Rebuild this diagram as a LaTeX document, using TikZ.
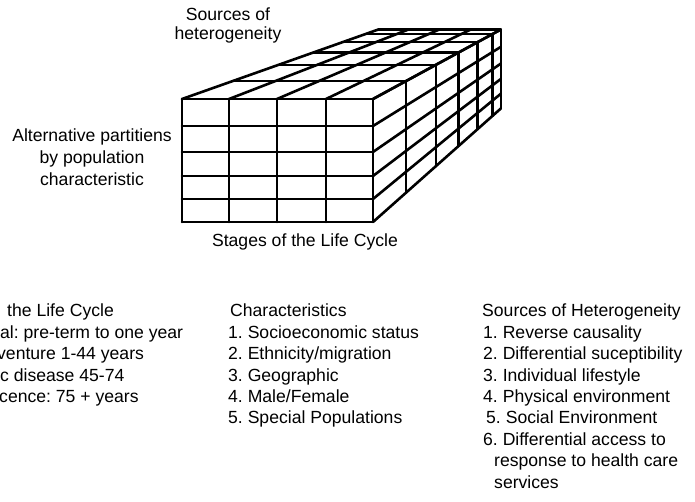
\documentclass[tikz,border=0pt]{standalone}
\usepackage{fontspec}
\setmainfont{Liberation Sans}
\usetikzlibrary{calc}
\frenchspacing
\begin{document}
\begin{tikzpicture}[x=1pt,y=-1pt,
  gridline/.style={line width=2.6pt, line cap=round, line join=round},
  lbl/.style={inner sep=0pt, font=\fontsize{17.6}{20}\selectfont},
  listtext/.style={lbl, anchor=west, text height=12.8, text depth=4}]
\useasboundingbox (0,0) rectangle (695,501);
\coordinate (VP) at (730,-95);
% front face
\foreach \x in {182,229,277,326,373} \draw[gridline] (\x,99) -- (\x,222);
\foreach \y in {99,126,152,176,199,222} \draw[gridline] (182,\y) -- (373,\y);
% top face, receding lines
\foreach \x in {182,229,277,326,373} \draw[gridline] (\x,99) -- ($(VP)!0.642!(\x,99)$);
% right face, receding lines
\foreach \y in {99,126,152,176,199,222} \draw[gridline] (373,\y) -- ($(VP)!0.642!(373,\y)$);
% depth slices
\foreach \s in {0.908,0.824,0.760,0.707,0.665,0.642}
  \draw[gridline] ($(VP)!\s!(182,99)$) -- ($(VP)!\s!(373,99)$) -- ($(VP)!\s!(373,222)$);
% labels round the box
\node[lbl, align=center, font=\fontsize{17.6}{19}\selectfont] (srcH) at (228,25) {Sources of\\heterogeneity};
\node[lbl, align=center, font=\fontsize{17.6}{22}\selectfont] (altP) at (92,157) {Alternative partitiens\\by population\\characteristic};
\node[lbl] (stages) at (305,242) {Stages of the Life Cycle};
% left list (cut at the page edge)
\node[listtext] (l0) at (7,312.5) {the Life Cycle};
\node[listtext] (l1) at (0,333.9) {al: pre-term to one year};
\node[listtext] (l2) at (-3,355.3) {venture 1-44 years};
\node[listtext] (l3) at (0,376.7) {c disease 45-74};
\node[listtext] (l4) at (-1,398.1) {cence: 75 + years};
% characteristics
\node[listtext] (c0) at (230,312.5) {Characteristics};
\node[listtext] (c1) at (228,333.9) {1. Socioeconomic status};
\node[listtext] (c2) at (228,355.3) {2. Ethnicity/migration};
\node[listtext] (c3) at (228,376.7) {3. Geographic};
\node[listtext] (c4) at (228,398.1) {4. Male/Female};
\node[listtext] (c5) at (228,419.5) {5. Special Populations};
% sources of heterogeneity
\node[listtext] (s0) at (482,312.5) {Sources of Heterogeneity};
\node[listtext] (s1) at (483,333.9) {1. Reverse causality};
\node[listtext] (s2) at (483,355.3) {2. Differential suceptibility};
\node[listtext] (s3) at (483,376.7) {3. Individual lifestyle};
\node[listtext] (s4) at (483,398.1) {4. Physical environment};
\node[listtext] (s5) at (486,419.5) {5. Social Environment};
\node[listtext] (s6) at (483,440.9) {6. Differential access to};
\node[listtext] (s7) at (494,462.3) {response to health care};
\node[listtext] (s8) at (494,483.7) {services};
\end{tikzpicture}
\end{document}
